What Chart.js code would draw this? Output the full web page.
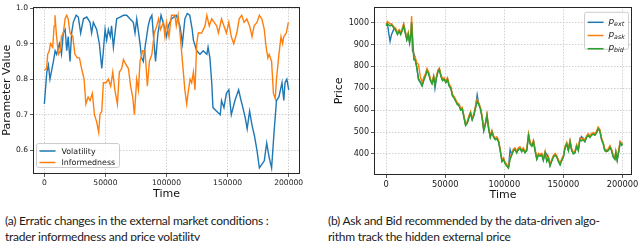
<!DOCTYPE html>
<html><head><meta charset="utf-8">
<script src="https://cdn.jsdelivr.net/npm/chart.js@4.4.1/dist/chart.umd.min.js"></script>
<style>
html,body{margin:0;padding:0;background:#fff;width:640px;height:241px;overflow:hidden;}
#wrap{position:relative;width:640px;height:241px;}
canvas{position:absolute;}
.cap{position:absolute;top:213px;font-family:Lato,'Open Sans',sans-serif;font-size:12px;line-height:16px;letter-spacing:-0.25px;color:#1a1a1a;white-space:nowrap;}
</style></head><body>
<div id="wrap">
<canvas id="c1" width="312" height="206" style="left:0;top:0;width:312px;height:206px"></canvas>
<canvas id="c2" width="320" height="206" style="left:320px;top:0;width:320px;height:206px"></canvas>
<div class="cap" id="capA" style="left:5px">(a) Erratic changes in the external market conditions :<br>trader informedness and price volatility</div>
<div class="cap" id="capB" style="left:328px">(b) Ask and Bid recommended by the data-driven algo-<br>rithm track the hidden external price</div>
</div>
<script>
// ---------- data ----------
const xTicks = [0, 50000, 100000, 150000, 200000];
const yTicksParam = [0.6, 0.7, 0.8, 0.9, 1.0];
const yTicksPrice = [400, 500, 600, 700, 800, 900, 1000];
const xTitle = 'Time';
const paramLabels = ['Volatility', 'Informedness'];
const priceLabels = ['ext', 'ask', 'bid'];

const tVol = [0,2000,3300,4600,7400,8800,10000,12300,14000,15500,
17000,18300,19500,21000,22300,23700,26000,27800,29700,32000,
34700,37400,38700,40100,42800,45000,47000,48300,49700,51000,
52400,54000,55000,56500,59200,62000,64700,67400,70000,72800,
74200,75600,78300,79600,81000,82000,85000,86500,88000,89800,
91000,93000,95500,98000,100000,101500,104000,108000,111000,113000,
115000,117000,119000,121000,122000,124700,127400,130000,133000,134000,
135500,137000,138000,141000,144000,145000,147000,149000,151000,153000,
156000,159000,161000,162500,164500,166000,168000,170000,172000,174000,
176000,178000,180000,182000,184000,186000,188000,190000,192000,194500,
196000,197000,198500,200000];
const volatility = [0.73,0.82,0.84,0.80,0.85,0.88,0.87,0.90,0.87,0.93,
0.94,0.88,0.92,0.85,0.93,0.96,0.98,0.975,0.93,0.97,
0.975,0.96,0.93,0.96,0.94,0.90,0.83,0.88,0.94,0.91,
0.94,0.92,0.95,0.89,0.97,0.975,0.98,0.98,0.97,0.96,
0.93,0.97,0.90,0.86,0.85,0.88,0.95,0.97,0.98,0.90,
0.85,0.93,0.98,0.95,0.92,0.95,0.97,0.98,0.95,0.90,
0.97,0.985,0.98,0.94,0.91,0.88,0.87,0.88,0.87,0.89,
0.86,0.79,0.72,0.71,0.70,0.74,0.72,0.76,0.77,0.70,
0.74,0.77,0.74,0.72,0.69,0.66,0.71,0.67,0.64,0.60,
0.55,0.56,0.57,0.62,0.58,0.55,0.65,0.74,0.75,0.79,
0.74,0.79,0.80,0.77];

const tInf = [0,1800,2700,4000,5000,6800,8000,8700,10000,11500,
13000,14000,15500,17000,18300,19500,21000,23300,25000,27000,
28700,30500,32500,34000,35800,37400,39300,41000,42800,44500,
45500,47000,48300,50500,52400,54300,56000,57700,59800,61400,
63300,64700,67000,68800,70600,72300,73700,75600,77000,78300,
80500,82400,84300,86000,88000,90000,92000,93500,95000,97500,
98700,100000,102000,104000,106800,108000,109500,111000,113000,115000,
116500,118000,119300,120600,122000,123300,124700,126000,128700,131500,
133000,135000,137000,139000,141000,142500,145000,147000,149000,151000,
153000,155000,157500,159500,161500,163500,165700,168000,170000,171700,
174000,176000,178000,180000,181500,183000,184000,186000,187500,189000,
190000,192000,193700,195000,196000,198000,199700];
const informedness = [0.825,0.83,0.87,0.88,0.90,0.89,0.95,0.98,0.92,0.87,
0.88,0.92,0.93,0.97,0.98,0.97,0.93,0.92,0.87,0.86,
0.86,0.83,0.80,0.73,0.75,0.74,0.76,0.70,0.68,0.65,
0.70,0.71,0.79,0.79,0.80,0.78,0.82,0.77,0.73,0.82,
0.83,0.855,0.84,0.83,0.78,0.75,0.70,0.80,0.77,0.85,
0.88,0.88,0.78,0.85,0.87,0.93,0.95,0.97,0.94,0.96,
0.92,0.96,0.92,0.98,0.98,0.95,0.98,0.93,0.85,0.77,
0.73,0.77,0.80,0.79,0.82,0.77,0.90,0.93,0.93,0.95,
0.98,0.95,0.97,0.96,0.95,0.93,0.97,0.95,0.93,0.96,
0.92,0.90,0.93,0.97,0.98,0.96,0.97,0.95,0.92,0.95,
0.96,0.98,0.97,0.94,0.89,0.86,0.87,0.85,0.76,0.745,
0.80,0.87,0.92,0.90,0.92,0.93,0.96];

const tPrice = [0,1000,2200,3300,4500,6400,8000,9500,11000,12300,
13700,14800,16000,17500,18700,19800,21000,21500,22300,23400,
24500,26000,27300,29000,30400,31800,33200,34600,36000,37400,
38800,40200,41300,42700,43800,45000,46300,47700,49100,50500,
51900,53300,54700,56100,57500,58900,60300,61700,63000,64400,
65700,67200,68600,70000,71400,72800,74200,75600,77000,78400,
79800,81200,82600,84000,85300,86700,88100,89500,91000,92300,
93700,95100,96500,98000,99300,100700,102000,103500,104900,106300,
107700,109000,110500,111900,113300,114700,116000,117500,119000,120500,
121900,123300,124700,126000,127500,128900,130300,131700,133000,134500,
135900,137300,138700,140000,141500,143000,144400,145800,147200,148600,
150000,151300,152800,154200,155600,157000,158400,159800,161200,162600,
164000,165400,166800,168200,169600,171000,172400,173800,175200,176600,
178000,179400,180800,182300,183700,185000,186500,188000,189400,190700,
192200,193600,194400,195500,197000,198000,199300,200000];
const pExt = [990,1000,950,915,945,970,970,950,963,950,
970,990,960,925,950,910,950,1000,870,860,
835,795,745,728,713,738,758,783,768,738,
723,753,700,753,778,788,758,738,743,728,
743,713,703,668,658,643,628,623,603,608,
573,533,543,568,588,558,578,613,670,628,
608,568,508,538,578,518,478,503,478,468,
473,458,418,368,378,358,348,338,420,398,
418,423,408,423,428,413,423,408,418,488,
448,438,458,418,378,398,393,398,373,408,
400,383,348,368,388,398,388,368,353,373,
388,428,448,418,458,418,403,408,438,418,
468,480,468,458,478,488,478,488,493,488,
498,518,508,468,448,418,413,418,433,418,
388,378,408,373,418,453,443,448];
const pAsk = [995,1005,1000,995,995,982,975,955,968,955,
975,995,965,930,955,915,960,1030,940,842,
845,815,810,750,728,750,765,790,773,745,
728,758,722,758,783,793,763,743,748,733,
748,718,708,673,663,648,633,628,608,613,
578,538,548,573,593,563,583,618,650,633,
613,573,513,543,583,523,483,508,483,473,
478,463,423,373,383,363,353,343,383,403,
423,428,413,428,433,418,428,413,423,493,
453,443,463,423,383,403,398,403,378,413,
373,388,353,373,393,403,393,373,358,378,
393,433,453,423,463,423,408,413,443,423,
473,468,473,463,483,493,483,493,498,493,
503,523,513,473,453,423,418,423,438,423,
393,383,413,378,423,458,448,453];
const pBid = [985,995,990,985,990,975,965,945,960,945,
965,985,955,920,945,905,945,1000,925,830,
830,790,740,725,710,735,755,780,765,735,
720,750,715,750,775,785,755,735,740,725,
740,710,700,665,655,640,625,620,600,605,
570,530,540,565,585,555,575,610,640,625,
605,565,505,535,575,515,475,500,475,465,
470,455,415,365,375,355,345,335,375,395,
415,420,405,420,425,410,420,405,415,485,
445,435,455,415,375,395,390,395,370,405,
365,380,345,365,385,395,385,365,350,370,
385,425,445,415,455,415,400,405,435,415,
465,460,465,455,475,485,475,485,490,485,
495,515,505,465,445,415,410,415,430,415,
385,375,405,370,415,450,440,445];

// ---------- styling ----------
const BLUE = '#1f77b4', ORANGE = '#ff7f0e', GREEN = '#2ca02c';
const FONT = 'DejaVu Sans';
const zip = (xs, ys) => xs.map((x, i) => ({x: x, y: ys[i]}));

const framePlugin = {
  id: 'frame',
  afterDatasetsDraw(chart) {
    const {ctx, chartArea: a} = chart;
    ctx.save();
    ctx.strokeStyle = '#262626';
    ctx.lineWidth = 1;
    ctx.strokeRect(Math.round(a.left) + 0.5, Math.round(a.top) + 0.5,
      Math.round(a.right - a.left) - 1, Math.round(a.bottom - a.top) - 1);
    // x axis title
    ctx.fillStyle = '#111';
    ctx.font = '11px "' + FONT + '"';
    ctx.textAlign = 'center';
    ctx.textBaseline = 'middle';
    ctx.fillText(xTitle, (a.left + a.right) / 2, a.bottom + 20.5);
    ctx.restore();
  }
};

function roundRect(ctx, x, y, w, h, r) {
  ctx.beginPath();
  ctx.moveTo(x + r, y);
  ctx.lineTo(x + w - r, y); ctx.quadraticCurveTo(x + w, y, x + w, y + r);
  ctx.lineTo(x + w, y + h - r); ctx.quadraticCurveTo(x + w, y + h, x + w - r, y + h);
  ctx.lineTo(x + r, y + h); ctx.quadraticCurveTo(x, y + h, x, y + h - r);
  ctx.lineTo(x, y + r); ctx.quadraticCurveTo(x, y, x + r, y);
  ctx.closePath();
}

const legendLeft = {
  id: 'legendLeft',
  afterDraw(chart) {
    const {ctx, chartArea: a} = chart;
    const x0 = a.left + 3.5, y0 = a.bottom - 30.5, w = 83, h = 24;
    ctx.save();
    roundRect(ctx, x0, y0, w, h, 2);
    ctx.fillStyle = 'rgba(255,255,255,0.8)'; ctx.fill();
    ctx.strokeStyle = '#cccccc'; ctx.lineWidth = 1; ctx.stroke();
    const ds = chart.data.datasets;
    ctx.font = '7.9px "' + FONT + '"';
    ctx.textBaseline = 'middle';
    [0, 1].forEach(i => {
      const yy = y0 + 7.5 + i * 11.5;
      ctx.strokeStyle = ds[i].borderColor; ctx.lineWidth = 1.5;
      ctx.beginPath(); ctx.moveTo(x0 + 3, yy); ctx.lineTo(x0 + 19, yy); ctx.stroke();
      ctx.fillStyle = '#1a1a1a';
      ctx.fillText(ds[i].label, x0 + 25, yy + 0.5);
    });
    ctx.restore();
  }
};

const legendRight = {
  id: 'legendRight',
  afterDraw(chart) {
    const {ctx, chartArea: a} = chart;
    const w = 44, h = 37;
    const x0 = a.right - w - 3.5, y0 = a.top + 5.5;
    ctx.save();
    roundRect(ctx, x0, y0, w, h, 2);
    ctx.fillStyle = 'rgba(255,255,255,0.8)'; ctx.fill();
    ctx.strokeStyle = '#cccccc'; ctx.lineWidth = 1; ctx.stroke();
    const ds = chart.data.datasets;
    ctx.textBaseline = 'alphabetic';
    for (let i = 0; i < 3; i++) {
      const yy = y0 + 10 + i * 13.2;
      ctx.strokeStyle = ds[i].borderColor; ctx.lineWidth = 1.5;
      ctx.beginPath(); ctx.moveTo(x0 + 3, yy); ctx.lineTo(x0 + 19, yy); ctx.stroke();
      ctx.fillStyle = '#1a1a1a';
      ctx.font = 'italic 9px "' + FONT + '"';
      ctx.fillText('p', x0 + 24, yy + 1.5);
      ctx.font = 'italic 6.3px "' + FONT + '"';
      ctx.fillText(ds[i].label, x0 + 29.5, yy + 3.5);
    }
    ctx.restore();
  }
};

function tickFont(size) { return {family: FONT, size: size}; }

function xScale(min, max, height, fsize) {
  return {
    type: 'linear', min: min, max: max,
    afterBuildTicks: s => { s.ticks = xTicks.map(v => ({value: v})); },
    afterFit: s => { s.height = height; },
    ticks: {font: tickFont(fsize), color: '#1a1a1a', padding: 1.5, maxRotation: 0, autoSkip: false,
      callback: v => String(v)},
    grid: {color: '#c4c4c4', lineWidth: 0.8, tickColor: '#333', tickLength: 3, tickWidth: 0.8},
    border: {display: false, dash: [1.5, 1.5]},
    title: {display: false}
  };
}

// ---------- left chart ----------
new Chart(document.getElementById('c1'), {
  type: 'line',
  data: {
    datasets: [
      {label: paramLabels[0], data: zip(tVol, volatility), borderColor: BLUE, borderWidth: 1.4, pointRadius: 0, tension: 0, order: 2},
      {label: paramLabels[1], data: zip(tInf, informedness), borderColor: ORANGE, borderWidth: 1.4, pointRadius: 0, tension: 0, order: 1}
    ]
  },
  options: {
    responsive: false, animation: false, devicePixelRatio: 1,
    layout: {autoPadding: false, padding: {left: 0, top: 2, right: 12, bottom: 0}},
    plugins: {legend: {display: false}, tooltip: {enabled: false}},
    scales: {
      x: xScale(-9300, 209250, 32, 7.6),
      y: {
        min: 0.533, max: 1.0045,
        afterBuildTicks: s => { s.ticks = yTicksParam.map(v => ({value: v})); },
        afterFit: s => { s.width = 33; },
        ticks: {font: tickFont(7.6), color: '#1a1a1a', padding: 2, callback: v => v.toFixed(1)},
        grid: {color: '#c4c4c4', lineWidth: 0.8, tickColor: '#333', tickLength: 3, tickWidth: 0.8},
        border: {display: false, dash: [1.5, 1.5]},
        title: {display: true, text: 'Parameter Value', color: '#111', font: {family: FONT, size: 11}, padding: {top: 1, bottom: 0}}
      }
    }
  },
  plugins: [framePlugin, legendLeft]
});

// ---------- right chart ----------
new Chart(document.getElementById('c2'), {
  type: 'line',
  data: {
    datasets: [
      {label: priceLabels[0], data: zip(tPrice, pExt), borderColor: BLUE, borderWidth: 1.4, pointRadius: 0, tension: 0, order: 3},
      {label: priceLabels[1], data: zip(tPrice, pAsk), borderColor: ORANGE, borderWidth: 1.4, pointRadius: 0, tension: 0, order: 2},
      {label: priceLabels[2], data: zip(tPrice, pBid), borderColor: GREEN, borderWidth: 1.4, pointRadius: 0, tension: 0, order: 1}
    ]
  },
  options: {
    responsive: false, animation: false, devicePixelRatio: 1,
    layout: {autoPadding: false, padding: {left: 0, top: 5, right: 5, bottom: 0}},
    plugins: {legend: {display: false}, tooltip: {enabled: false}},
    scales: {
      x: xScale(-10300, 208100, 31, 8.3),
      y: {
        min: 304, max: 1072,
        afterBuildTicks: s => { s.ticks = yTicksPrice.map(v => ({value: v})); },
        afterFit: s => { s.width = 54; },
        ticks: {font: tickFont(8), color: '#1a1a1a', padding: 2, callback: v => String(v)},
        grid: {color: '#c4c4c4', lineWidth: 0.8, tickColor: '#333', tickLength: 3, tickWidth: 0.8},
        border: {display: false, dash: [1.5, 1.5]},
        title: {display: true, text: 'Price', color: '#111', font: {family: FONT, size: 11}, padding: {top: 13, bottom: 0}}
      }
    }
  },
  plugins: [framePlugin, legendRight]
});
</script>
</body></html>
